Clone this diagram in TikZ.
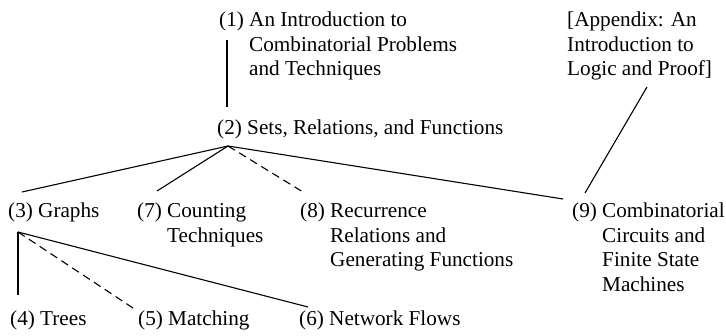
\documentclass[tikz,border=0pt]{standalone}
\usepackage{fontspec}
\setmainfont{Liberation Serif}
\newcommand{\mlines}[1]{\begin{tabular}[t]{@{}l@{}}#1\end{tabular}}
\begin{document}
\begin{tikzpicture}[x=1pt,y=-1pt,
  txt/.style={anchor=base west, inner sep=0pt, font=\fontsize{21.2}{24.4}\selectfont},
  conn/.style={line width=1.1pt},
  dconn/.style={conn, dash pattern=on 8pt off 5pt}]
\useasboundingbox (0,0) rectangle (726,336);
\fill[white] (0,0) rectangle (726,336);
\node[txt] (n1) at (219,27) {\mlines{(1) An Introduction to\\\phantom{(1) }Combinatorial Problems\\\phantom{(1) }and Techniques}};
\node[txt] (nA) at (567,27) {\mlines{[Appendix: An\\Introduction to\\Logic and Proof]}};
\node[txt] (n2) at (217,135) {(2) Sets, Relations, and Functions};
\node[txt] (n3) at (8,218) {(3) Graphs};
\node[txt] (n7) at (137,218) {\mlines{(7) Counting\\\phantom{(7) }Techniques}};
\node[txt] (n8) at (300,218) {\mlines{(8) Recurrence\\\phantom{(8) }Relations and\\\phantom{(8) }Generating Functions}};
\node[txt] (n9) at (572,218) {\mlines{(9) Combinatorial\\\phantom{(9) }Circuits and\\\phantom{(9) }Finite State\\\phantom{(9) }Machines}};
\node[txt] (n4) at (10,326) {(4) Trees};
\node[txt] (n5) at (138,326) {(5) Matching};
\node[txt] (n6) at (299,326) {(6) Network Flows};
% connectors
\draw[conn] ([shift={(8,13)}]n1.base west) -- ([shift={(10,-28)}]n2.base west);
\draw[conn] ([shift={(11,11)}]n2.base west) -- ([shift={(14,-26)}]n3.base west);
\draw[conn] ([shift={(11,11)}]n2.base west) -- ([shift={(20,-27)}]n7.base west);
\draw[dconn] ([shift={(11,11)}]n2.base west) -- ([shift={(3,-26)}]n8.base west);
\draw[conn] ([shift={(11,11)}]n2.base west) -- ([shift={(-9,-19)}]n9.base west);
\draw[conn] ([shift={(13,-25)}]n9.base west) -- ([shift={(80,60)}]nA.base west);
\draw[conn] ([shift={(10,14)}]n3.base west) -- ([shift={(8,-31)}]n4.base west);
\draw[dconn] ([shift={(10,14)}]n3.base west) -- ([shift={(-2,-16)}]n5.base west);
\draw[conn] ([shift={(10,14)}]n3.base west) -- ([shift={(9,-19)}]n6.base west);
\end{tikzpicture}
\end{document}
